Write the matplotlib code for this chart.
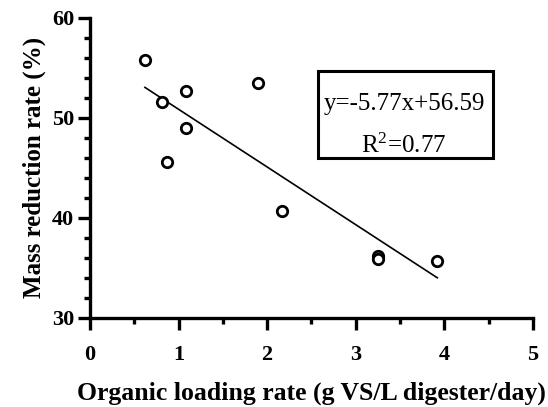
import matplotlib
matplotlib.use("Agg")
import matplotlib.pyplot as plt
import numpy as np
from matplotlib.ticker import MultipleLocator
from matplotlib.patches import Rectangle

plt.rcParams['font.family'] = ['Liberation Serif', 'DejaVu Serif']
plt.rcParams['mathtext.fontset'] = 'custom'
plt.rcParams['mathtext.rm'] = 'Liberation Serif'

# data
olr = [0.62, 0.81, 1.08, 1.08, 0.87, 1.90, 2.17, 3.25, 3.25, 3.92]
mass_red = [55.8, 51.6, 52.7, 49.0, 45.6, 53.5, 40.7, 36.2, 35.9, 35.7]
slope = -5.77
intercept = 56.59
r2 = 0.77

fig = plt.figure(figsize=(5.48, 4.07), dpi=100)
ax = fig.add_axes([0.1642, 0.2199, 0.8084, 0.7371])

ax.plot(olr, mass_red, 'o', mfc='white', mec='black', ms=7.5, mew=2.0, zorder=3)
xfit = np.array([min(olr), max(olr)])
ax.plot(xfit, slope * xfit + intercept, color='black', lw=1.2)

ax.set_xlim(0, 5)
ax.set_ylim(30, 60)
ax.xaxis.set_major_locator(MultipleLocator(1))
ax.xaxis.set_minor_locator(MultipleLocator(0.5))
ax.yaxis.set_major_locator(MultipleLocator(10))
ax.yaxis.set_minor_locator(MultipleLocator(2))

for s in ['top', 'right']:
    ax.spines[s].set_visible(False)
for s in ['left', 'bottom']:
    ax.spines[s].set_linewidth(2.4)

ax.tick_params(which='major', length=8.5, width=2.4, labelsize=16)
ax.tick_params(which='minor', length=4.5, width=2.4)
ax.tick_params(axis='x', which='major', pad=11)
ax.tick_params(axis='y', which='major', pad=3)
for lab in ax.get_xticklabels() + ax.get_yticklabels():
    lab.set_fontweight('bold')

ax.set_xlabel('Organic loading rate (g VS/L digester/day)', fontsize=18.5, fontweight='bold', labelpad=12)
ax.set_ylabel('Mass reduction rate (%)', fontsize=18, fontweight='bold', labelpad=4)

# equation box
ax.add_patch(Rectangle((0.515, 0.532), 0.395, 0.29, transform=ax.transAxes,
                       fc='white', ec='black', lw=2.2, zorder=4))
ax.text(0.709, 0.692, f'y={slope:.2f}x+{intercept:.2f}', transform=ax.transAxes,
        ha='center', va='baseline', fontsize=18, zorder=5)
ax.text(0.709, 0.548, '$\\mathregular{R^2}$' + f'={r2:.2f}', transform=ax.transAxes,
        ha='center', va='baseline', fontsize=18, zorder=5)

fig.savefig('out.png', dpi=100)
